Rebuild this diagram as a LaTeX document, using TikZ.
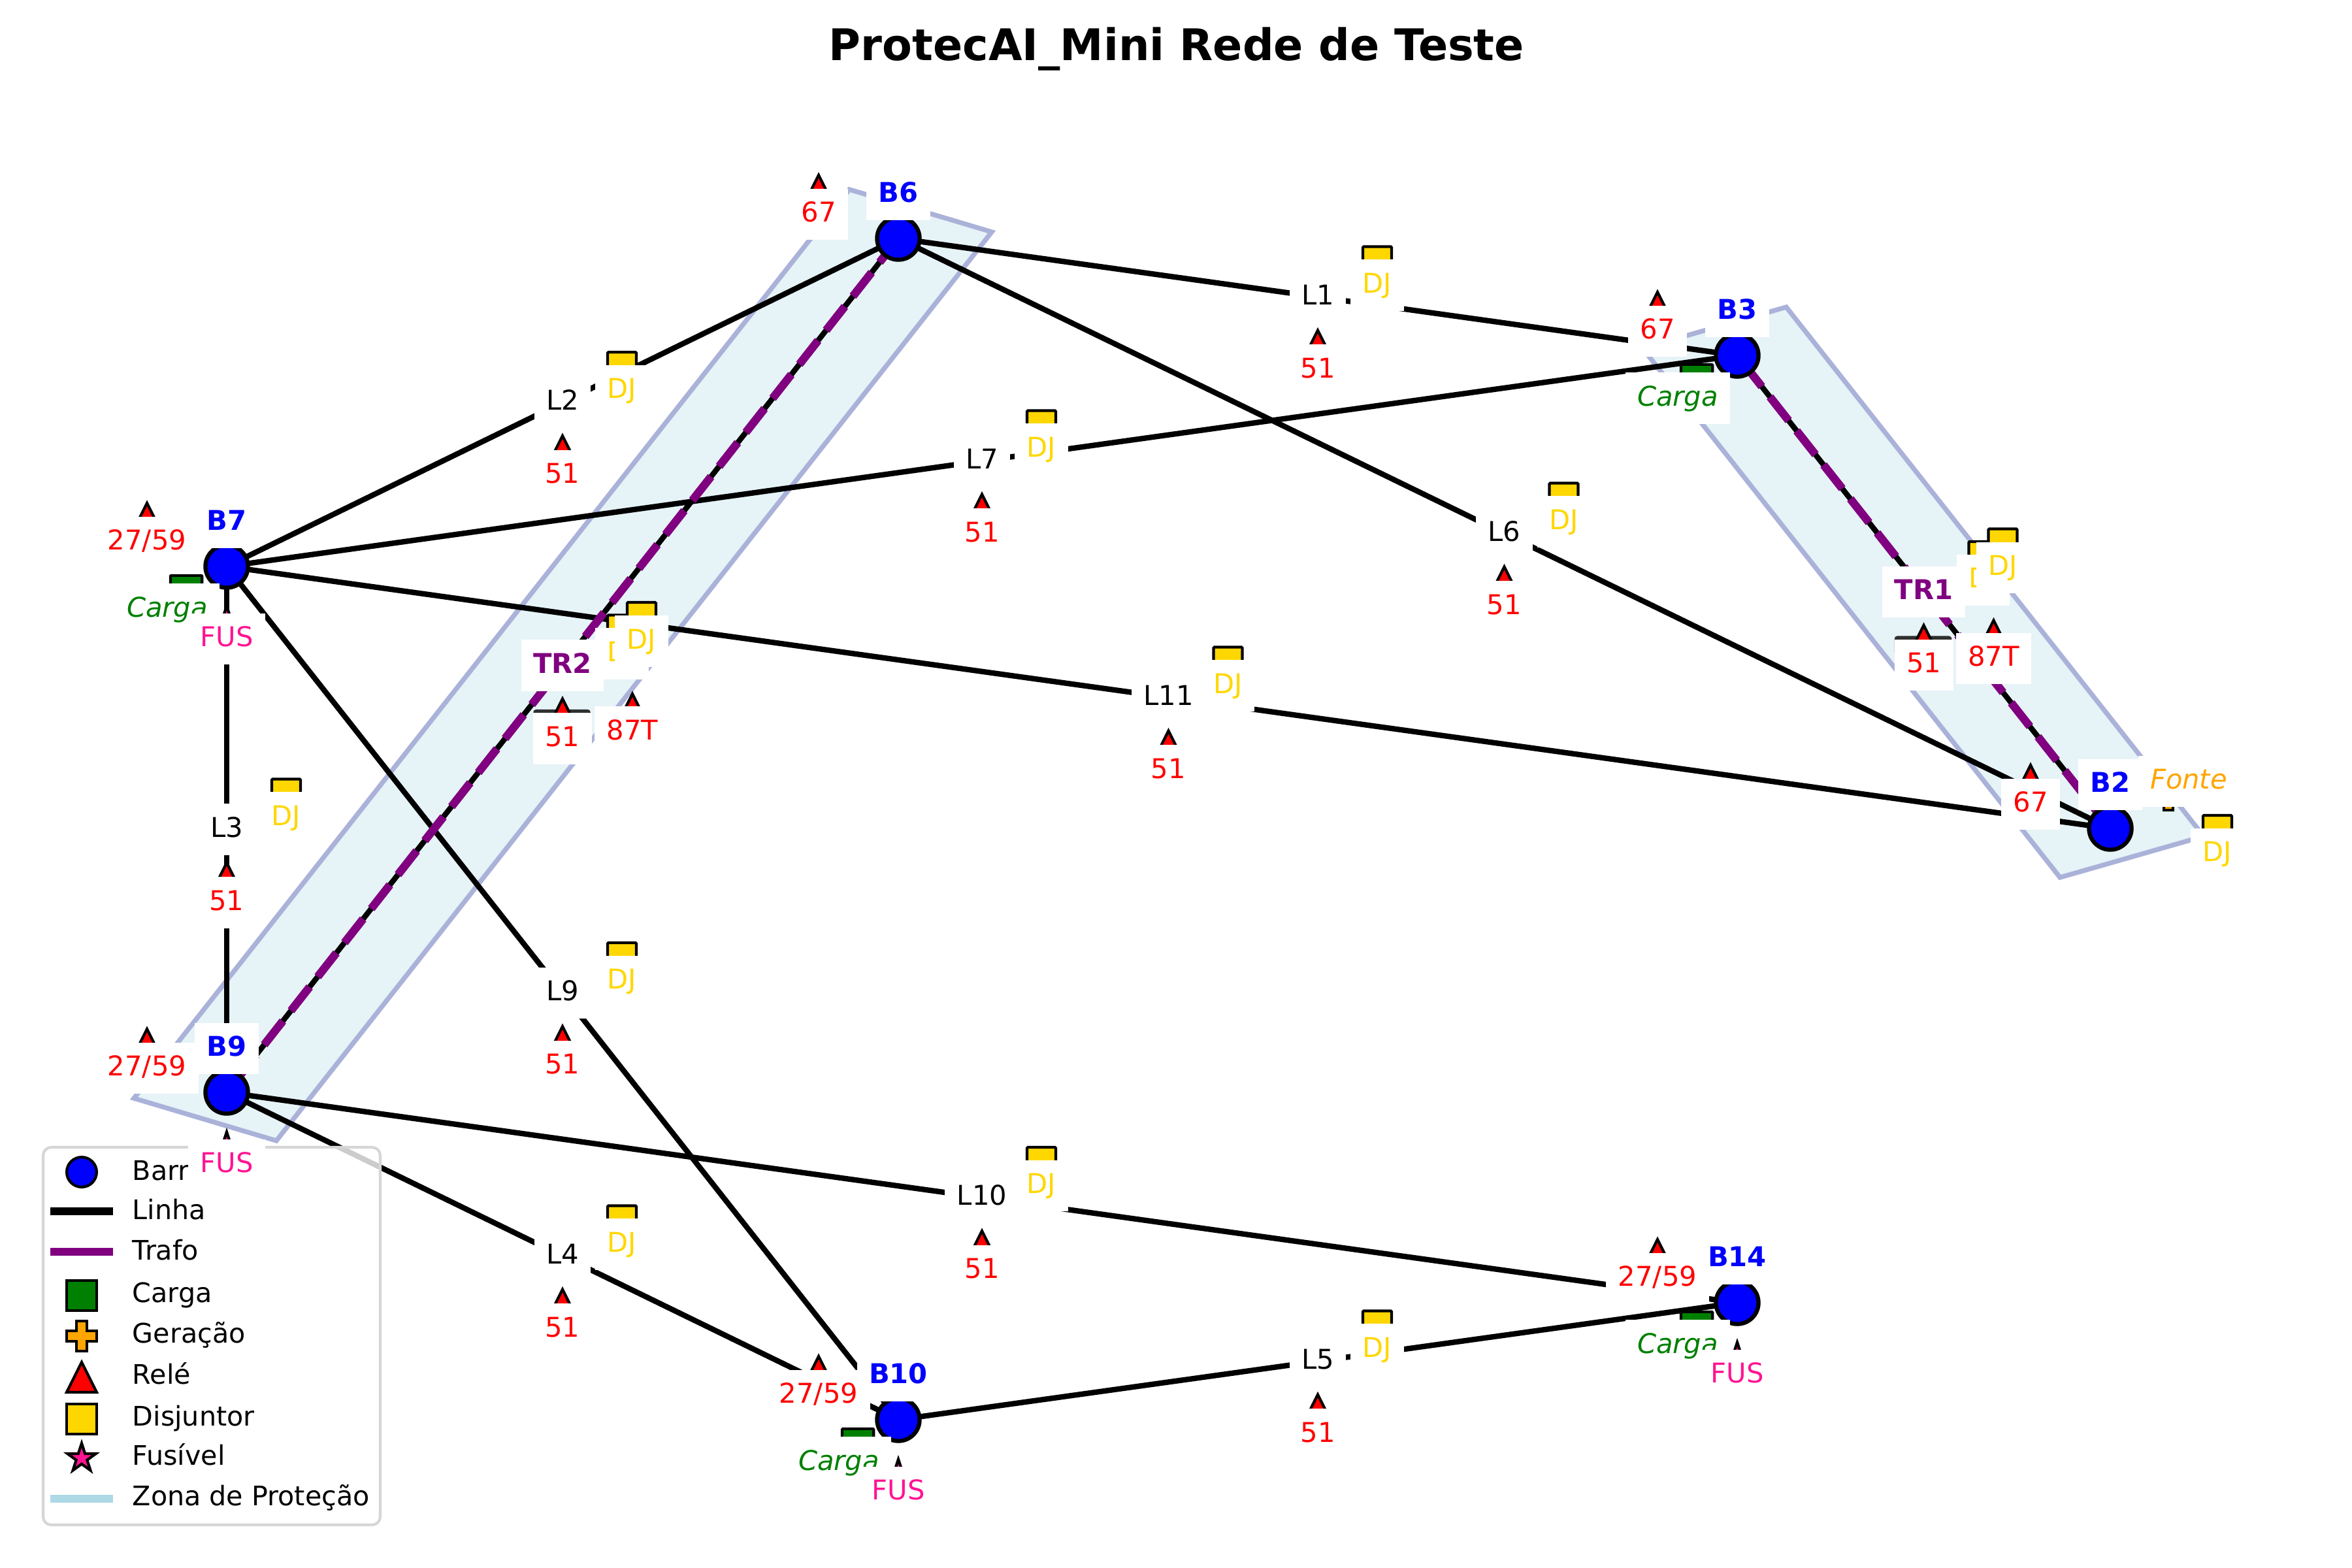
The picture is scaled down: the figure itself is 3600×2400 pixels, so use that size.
\documentclass[tikz,border=0pt]{standalone}
\usepackage{fontspec}
\setmainfont{DejaVu Sans}
\usetikzlibrary{calc,shapes.geometric}
\pgfdeclarelayer{zonelayer}
\pgfdeclarelayer{linelayer}
\pgfdeclarelayer{legendlayer}
\pgfdeclarelayer{labellayer}
\pgfsetlayers{zonelayer,linelayer,main,legendlayer,labellayer}
\definecolor{zonefill}{HTML}{E6F3F7}
\definecolor{zoneedge}{HTML}{ABB2D9}
\definecolor{djgold}{HTML}{FFD700}
\definecolor{fuspink}{HTML}{FF1493}
\definecolor{cargagreen}{HTML}{008000}
\definecolor{geraorange}{HTML}{FFA500}
\definecolor{trafopurple}{HTML}{800080}
\definecolor{legedge}{HTML}{D6D6D6}
\definecolor{zonaleg}{HTML}{ADD8E6}
\definecolor{bardark}{HTML}{303030}
\newcommand{\fsz}{\fontsize{10.04}{12}\selectfont}
\tikzset{
  lbl/.style={fill=white,inner xsep=4.44bp,inner ysep=4.44bp,text height=7.85bp,text depth=2.19bp,font=\fsz},
  lineLbl/.style={lbl,text=black},
  djLbl/.style={lbl,text=djgold},
  relLbl/.style={lbl,text=red},
  busLbl/.style={lbl,text=blue,font=\fsz\bfseries},
  trLbl/.style={lbl,text=trafopurple,font=\fsz\bfseries},
  cargaLbl/.style={lbl,text=cargagreen,font=\fsz\itshape},
  fonteLbl/.style={lbl,text=geraorange,font=\fsz\itshape},
  fusLbl/.style={lbl,text=fuspink},
  busNode/.style={circle,draw=black,fill=blue,line width=1.5bp,minimum size=15.65bp,inner sep=0pt},
  sqNode/.style={rectangle,draw=black,line width=1bp,inner sep=0pt,minimum size=10.56bp,rounded corners=0.3bp},
  djNode/.style={sqNode,fill=djgold},
  cargaNode/.style={sqNode,fill=cargagreen,minimum size=11.6bp},
  starNode/.style={star,star points=5,star point ratio=2.618,draw=black,fill=fuspink,line width=1bp,minimum size=10.56bp,inner sep=0pt},
  mk/.style={draw=black,line width=1bp,line join=miter},
  lineEdge/.style={draw=black,line width=2bp},
  trafoEdge/.style={draw=trafopurple,line width=3bp,dash pattern=on 11.1bp off 4.8bp},
  zoneShape/.style={fill=zonefill,draw=zoneedge,line width=1.75bp,line join=miter},
  legBar/.style={rectangle,minimum width=22.8bp,minimum height=3bp,inner sep=0pt},
  legTxt/.style={anchor=west,inner sep=0pt,text height=7.63bp,text depth=2.41bp,font=\fontsize{9.93}{12}\selectfont,text=black},
  barNode/.style={rectangle,fill=bardark,rounded corners=1bp,minimum width=21bp,minimum height=7bp,inner sep=0pt},
}
% red triangle, centred on the current origin
\newcommand{\relaymk}[2]{\draw[mk,fill=red] (#1,#2-22) -- (#1+22,#2+22) -- (#1-22,#2+22) -- cycle;}
\newcommand{\onlabels}[1]{\begin{pgfonlayer}{labellayer}#1\end{pgfonlayer}}
\newcommand{\equip}[1]{%
  \node[djNode] (#1dj) at (91,-55) {};
  \relaymk{0}{73}
  \onlabels{%
    \node[djLbl] (#1djt) at (91,-18) {DJ};
    \node[relLbl] (#1rel) at (0,112) {51};
  }}
\begin{document}
\begin{tikzpicture}[x=0.24bp,y=-0.24bp]
\useasboundingbox (0,0) rectangle (3600,2400);
\node[font=\fontsize{16.06}{18}\selectfont\bfseries,inner sep=0pt] (title) at (1801,75) {ProtecAI\_Mini Rede de Teste};

% buses
\node[busNode] (B2) at (3230,1268) {};
\node[busNode] (B3) at (2659,544) {};
\node[busNode] (B6) at (1375,365) {};
\node[busNode] (B7) at (347,867) {};
\node[busNode] (B9) at (347,1672) {};
\node[busNode] (B10) at (1375,2173) {};
\node[busNode] (B14) at (2659,1994) {};

% protection zones
\begin{pgfonlayer}{zonelayer}
\draw[zoneShape] (1300,290) -- (1518,355) -- (423,1746) -- (205,1681) -- cycle;
\draw[zoneShape] (2734,470) -- (3373,1280) -- (3153,1343) -- (2514,533) -- cycle;
\end{pgfonlayer}

% connectors
\begin{pgfonlayer}{linelayer}
\foreach \a/\b in {B6/B3,B7/B6,B7/B9,B9/B10,B10/B14,B6/B2,B7/B3,B7/B10,B9/B14,B7/B2}
  \draw[lineEdge] (\a.center) -- (\b.center);
\draw[lineEdge] (B2.center) -- (B3.center);
\draw[trafoEdge] (B2.center) -- (B3.center);
\draw[lineEdge] (B6.center) -- (B9.center);
\draw[trafoEdge] (B6.center) -- (B9.center);
\end{pgfonlayer}

% line equipment
\foreach \n/\a/\b in {L1/B6/B3,L2/B7/B6,L3/B7/B9,L4/B9/B10,L5/B10/B14,L6/B6/B2,L7/B7/B3,L9/B7/B10,L10/B9/B14,L11/B7/B2}{
  \coordinate (m\n) at ($(\a.center)!.5!(\b.center)$);
  \begin{scope}[shift={(m\n)}]
    \onlabels{\node[lineLbl] (\n) at (0,0) {\n};}
    \equip{\n}
  \end{scope}
}

% transformers
\foreach \n/\a/\b in {TR1/B2/B3,TR2/B6/B9}{
  \coordinate (m\n) at ($(\a.center)!.5!(\b.center)$);
  \begin{scope}[shift={(m\n)}]
    \node[barNode] (\n bar) at (-1,82) {};
    \equip{\n}
    \node[djNode] (\n djb) at (121,-74.5) {};
    \relaymk{107}{65.5}
    \onlabels{%
      \node[trLbl] (\n) at (0,0) {\n};
      \node[djLbl] (\n djtb) at (121,-37) {DJ};
      \node[relLbl] (\n relb) at (107,102) {87T};
    }
  \end{scope}
}

% bus relays and bus labels
\foreach \n/\r in {B2/{67},B3/{67},B6/{67},B7/{27/59},B9/{27/59},B10/{27/59},B14/{27/59}}{
  \begin{scope}[shift={(\n.center)}]
    \relaymk{-122}{-75}
    \onlabels{%
      \node[relLbl] (\n rel) at (-122,-37) {\r};
    }
  \end{scope}
}
% loads
\foreach \n in {B3,B7,B10,B14}{
  \begin{scope}[shift={(\n.center)}]
    \node[cargaNode] (\n car) at (-62,38) {};
    \onlabels{\node[cargaLbl] (\n cart) at (-91,65.5) {Carga};}
  \end{scope}
}
% fuses
\foreach \n in {B7,B9,B10,B14}{
  \begin{scope}[shift={(\n.center)}]
    \node[starNode] (\n fus) at (0,82.5) {};
    \onlabels{\node[fusLbl] (\n fust) at (0,111) {FUS};}
  \end{scope}
}
% source at B2
\begin{scope}[shift={(B2.center)}]
  \draw[mk,fill=geraorange] (82,-72) -- (96,-72) -- (96,-57) -- (111,-57) -- (111,-43) -- (96,-43) -- (96,-28) -- (82,-28) -- (82,-43) -- (67,-43) -- (67,-57) -- (82,-57) -- cycle;
  \node[djNode] (B2dj) at (164,2) {};
  \onlabels{%
    \node[fonteLbl] (B2fonte) at (120,-72) {Fonte};
    \node[djLbl] (B2djt) at (164,39) {DJ};
  }
\end{scope}
% bus name labels (last)
\foreach \n in {B2,B3,B6,B7,B9,B10,B14}{
  \begin{scope}[shift={(\n.center)}]
    \onlabels{\node[busLbl] (\n name) at (0,-67) {\n};}
  \end{scope}
}

% legend
\begin{pgfonlayer}{legendlayer}
\draw[draw=legedge,line width=1bp,fill=white,fill opacity=.8,rounded corners=3bp] (66,1756) rectangle (582,2334);
\node[circle,draw=black,fill=blue,line width=1bp,minimum size=11bp,inner sep=0pt] (k1) at (125,1794) {};
\node[legTxt] (t1) at (202,1796) {Barra};
\node[legBar,fill=black] (k2) at (125,1854) {};
\node[legTxt] (t2) at (202,1856) {Linha};
\node[legBar,fill=trafopurple] (k3) at (125,1916) {};
\node[legTxt] (t3) at (202,1918) {Trafo};
\node[sqNode,fill=cargagreen,minimum size=11bp,rounded corners=0pt] (k4) at (125,1983) {};
\node[legTxt] (t4) at (202,1983) {Carga};
\draw[mk,fill=geraorange] (117,2022) -- (133,2022) -- (133,2037) -- (148,2037) -- (148,2053) -- (133,2053) -- (133,2068) -- (117,2068) -- (117,2053) -- (102,2053) -- (102,2037) -- (117,2037) -- cycle;
\node[legTxt] (t5) at (202,2045) {Geração};
\draw[mk,fill=red] (125,2085) -- (148,2131) -- (102,2131) -- cycle;
\node[legTxt] (t6) at (202,2108) {Relé};
\node[sqNode,fill=djgold,minimum size=11bp,rounded corners=0pt] (k7) at (125,2172) {};
\node[legTxt] (t7) at (202,2172) {Disjuntor};
\node[starNode,minimum size=11bp] (k8) at (125,2232) {};
\node[legTxt] (t8) at (202,2232) {Fusível};
\node[legBar,fill=zonaleg] (k9) at (125,2294) {};
\node[legTxt] (t9) at (202,2294) {Zona de Proteção};
\end{pgfonlayer}
\end{tikzpicture}
\end{document}
